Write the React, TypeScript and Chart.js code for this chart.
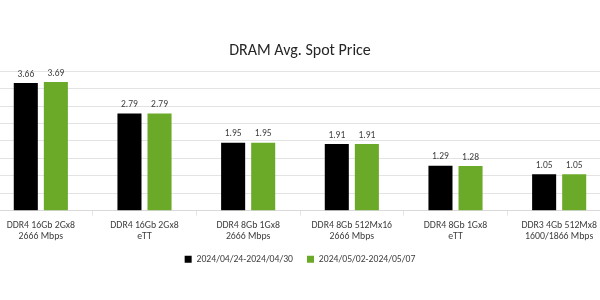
import React, { useEffect, useRef } from "react";
import { Chart, registerables } from "chart.js";

Chart.register(...registerables);

const categories: string[][] = [
  ["DDR4 16Gb 2Gx8", "2666 Mbps"],
  ["DDR4 16Gb 2Gx8", "eTT"],
  ["DDR4 8Gb 1Gx8", "2666 Mbps"],
  ["DDR4 8Gb 512Mx16", "2666 Mbps"],
  ["DDR4 8Gb 1Gx8", "eTT"],
  ["DDR3 4Gb 512Mx8", "1600/1866 Mbps"],
];
const seriesNames = ["2024/04/24-2024/04/30", "2024/05/02-2024/05/07"];
const week1 = [3.66, 2.79, 1.95, 1.91, 1.29, 1.05];
const week2 = [3.69, 2.79, 1.95, 1.91, 1.28, 1.05];
const title = "DRAM Avg. Spot Price";

const FONT = "Carlito, Lato, 'Open Sans', sans-serif";

const valueLabels = {
  id: "valueLabels",
  afterDatasetsDraw(chart: any) {
    const ctx = chart.ctx;
    ctx.save();
    ctx.font = `9.5px ${FONT}`;
    ctx.fillStyle = "#404040";
    ctx.textAlign = "center";
    ctx.textBaseline = "bottom";
    chart.data.datasets.forEach((ds: any, i: number) => {
      const meta = chart.getDatasetMeta(i);
      meta.data.forEach((bar: any, j: number) => {
        ctx.fillText(ds.data[j].toFixed(2), bar.x, bar.y - 4);
      });
    });
    ctx.restore();
  },
};

export default function App() {
  const ref = useRef<HTMLCanvasElement>(null);
  useEffect(() => {
    if (!ref.current) return;
    const chart = new Chart(ref.current, {
      type: "bar",
      data: {
        labels: categories,
        datasets: [
          { label: seriesNames[0], data: week1, backgroundColor: "#000000" },
          { label: seriesNames[1], data: week2, backgroundColor: "#6aaa28" },
        ],
      },
      options: {
        animation: false,
        responsive: true,
        maintainAspectRatio: false,
        layout: { padding: { top: 0, bottom: 26, left: 0, right: 0 } },
        datasets: { bar: { categoryPercentage: 0.58, barPercentage: 0.8 } },
        plugins: {
          title: {
            display: true,
            text: title,
            color: "#262626",
            font: { family: FONT, size: 16, weight: "normal" },
            padding: { top: 41, bottom: 11 },
          },
          legend: {
            position: "bottom",
            labels: {
              boxWidth: 7,
              boxHeight: 7,
              color: "#404040",
              font: { family: FONT, size: 9.7 },
              padding: 14,
            },
          },
          tooltip: { enabled: false },
        },
        scales: {
          x: {
            afterFit: (scale: any) => {
              scale.height -= 6;
            },
            grid: {
              offset: true,
              drawOnChartArea: false,
              drawTicks: true,
              tickLength: 5,
              color: "#e6e6e6",
            },
            border: { display: true, color: "#d9d9d9" },
            ticks: {
              color: "#404040",
              font: { family: FONT, size: 9.8, lineHeight: 1.15 },
              maxRotation: 0,
              autoSkip: false,
              padding: 4,
            },
          },
          y: {
            min: 0,
            max: 4,
            ticks: { display: false, stepSize: 0.5 },
            grid: { color: "#e3e3e3", drawTicks: false },
            border: { display: false },
          },
        },
      },
      plugins: [valueLabels],
    });
    return () => chart.destroy();
  }, []);
  return (
    <div style={{ position: "fixed", left: 0, top: 0, width: 600, height: 300, overflow: "hidden", background: "#fff" }}>
      <div style={{ position: "absolute", left: -11, top: 0, width: 622, height: 300 }}>
        <canvas ref={ref} />
      </div>
    </div>
  );
}
